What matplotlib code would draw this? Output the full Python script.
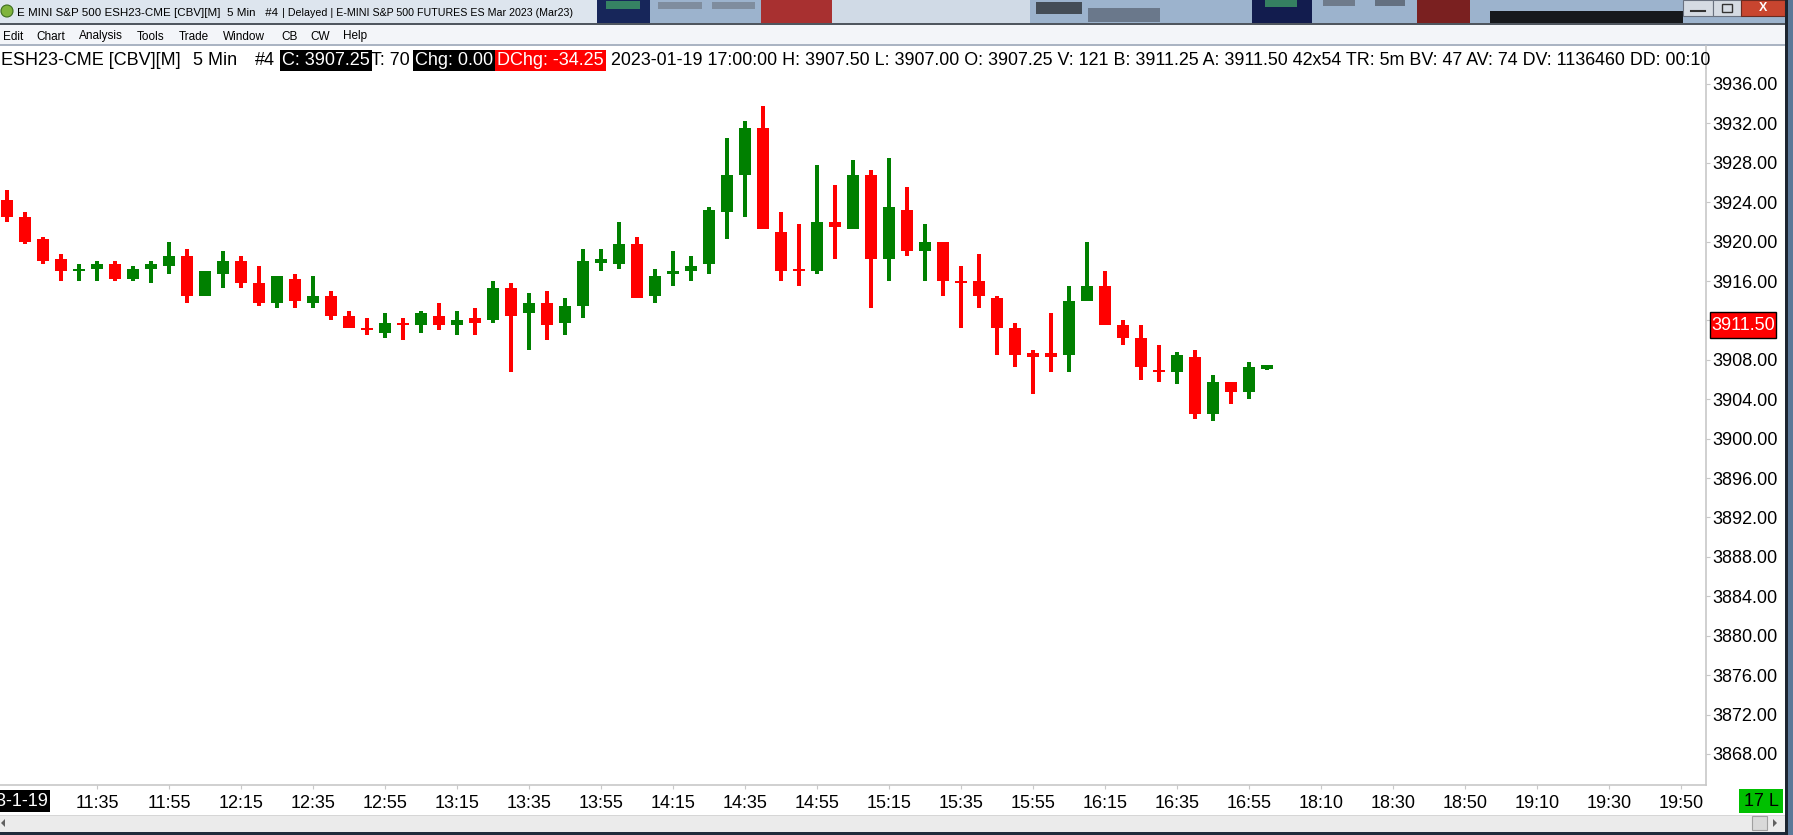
import matplotlib
matplotlib.use("Agg")
import matplotlib.pyplot as plt
from matplotlib.patches import Rectangle, Polygon, Circle
import pandas as pd

W, H = 1793, 835
UP = "#008000"
DOWN = "#ff0000"
LINE_GREY = "#c8c8c8"
FONT = ["Liberation Sans", "DejaVu Sans"]

# bar times (5 min) and the empty slots after the 17:00-18:00 break
BAR_TIMES = pd.date_range("2023-01-19 11:10", "2023-01-19 17:00", freq="5min")
EMPTY_TIMES = pd.date_range("2023-01-19 18:00", "2023-01-19 19:55", freq="5min")

OPEN = [3924.25, 3922.5, 3920.25, 3918.25, 3917.0, 3917.25, 3917.75, 3916.25, 3917.25, 3917.5,
        3918.5, 3914.5, 3916.75, 3918.0, 3915.75, 3913.75, 3916.25, 3913.75, 3914.5, 3912.5,
        3911.25, 3910.75, 3911.75, 3911.5, 3912.5, 3911.5, 3912.25, 3912.0, 3915.25, 3912.75,
        3913.75, 3911.75, 3913.5, 3918.0, 3917.75, 3919.75, 3914.5, 3916.75, 3917.0, 3917.75,
        3923.0, 3926.75, 3931.5, 3921.0, 3917.25, 3917.0, 3922.0, 3921.25, 3926.75, 3918.25,
        3923.25, 3919.0, 3920.0, 3916.0, 3916.0, 3914.25, 3911.25, 3908.5, 3908.5, 3908.5,
        3914.0, 3915.5, 3911.5, 3910.25, 3907.0, 3906.75, 3908.25, 3902.5, 3905.75, 3904.75,
        3907.25]
HIGH = [3925.25, 3923.0, 3920.5, 3918.75, 3917.75, 3918.0, 3918.0, 3917.5, 3918.0, 3920.0,
        3919.25, 3917.0, 3919.0, 3918.5, 3917.5, 3916.5, 3916.75, 3916.5, 3915.0, 3913.0,
        3912.25, 3912.75, 3912.25, 3913.0, 3913.75, 3913.0, 3913.25, 3916.0, 3915.75, 3914.75,
        3915.0, 3914.25, 3919.25, 3919.25, 3922.0, 3920.5, 3917.25, 3919.0, 3918.5, 3923.5,
        3930.5, 3932.25, 3933.75, 3923.0, 3921.75, 3927.75, 3925.75, 3928.25, 3927.25, 3928.5,
        3925.5, 3921.75, 3920.0, 3917.5, 3918.75, 3914.5, 3911.75, 3909.0, 3912.75, 3915.5,
        3920.0, 3917.0, 3912.0, 3911.5, 3909.5, 3908.75, 3909.0, 3906.5, 3905.75, 3907.75,
        3907.5]
LOW = [3922.0, 3919.75, 3917.75, 3916.0, 3916.0, 3916.0, 3916.0, 3916.0, 3915.75, 3916.75,
       3913.75, 3914.5, 3915.25, 3915.25, 3913.5, 3913.25, 3913.25, 3913.25, 3912.0, 3911.25,
       3910.5, 3910.25, 3910.0, 3910.75, 3911.0, 3910.5, 3910.5, 3911.75, 3906.75, 3909.0,
       3910.0, 3910.5, 3912.25, 3917.0, 3917.25, 3914.25, 3913.75, 3915.5, 3916.0, 3916.75,
       3920.25, 3922.5, 3921.25, 3916.0, 3915.5, 3916.75, 3918.25, 3921.25, 3913.25, 3916.0,
       3918.5, 3916.0, 3914.5, 3911.25, 3913.25, 3908.5, 3907.25, 3904.5, 3906.75, 3906.75,
       3914.0, 3911.5, 3909.5, 3906.0, 3905.75, 3905.5, 3902.0, 3901.75, 3903.5, 3904.0,
       3907.0]
CLOSE = [3922.5, 3920.0, 3918.0, 3917.0, 3917.25, 3917.75, 3916.25, 3917.25, 3917.75, 3918.5,
         3914.5, 3917.0, 3918.0, 3915.75, 3913.75, 3916.5, 3914.0, 3914.5, 3912.5, 3911.25,
         3911.0, 3911.75, 3911.5, 3912.75, 3911.5, 3912.0, 3911.75, 3915.25, 3912.5, 3913.75,
         3911.5, 3913.5, 3918.0, 3918.0, 3919.75, 3914.25, 3916.5, 3917.0, 3917.5, 3923.25,
         3926.75, 3931.5, 3921.25, 3917.0, 3917.0, 3922.0, 3921.5, 3926.75, 3918.25, 3923.5,
         3919.0, 3920.0, 3916.0, 3915.75, 3914.5, 3911.25, 3908.5, 3908.5, 3908.5, 3914.0,
         3915.5, 3911.5, 3910.25, 3907.25, 3906.75, 3908.5, 3902.5, 3905.75, 3904.75, 3907.25,
         3907.25]
DOJI_UP = ["13:55", "17:00"]

PRICE_TICKS = [3868, 3872, 3876, 3880, 3884, 3888, 3892, 3896, 3900, 3904, 3908,
               3912, 3916, 3920, 3924, 3928, 3932, 3936]
TIME_LABELS = ["11:35", "11:55", "12:15", "12:35", "12:55", "13:15", "13:35", "13:55",
               "14:15", "14:35", "14:55", "15:15", "15:35", "15:55", "16:15", "16:35",
               "16:55", "18:10", "18:30", "18:50", "19:10", "19:30", "19:50"]
DATE_LABEL = "23-1-19"
LAST_ASK = 3911.50
BAR_COUNT_LABEL = "17 L"

TITLE = [(17, 274, "E MINI S&P 500 ESH23-CME [CBV][M]  5 Min   #4"),
         (282, 570, "| Delayed | E-MINI S&P 500 FUTURES ES Mar 2023 (Mar23)")]
MENU = [("Edit", 3), ("Chart", 36), ("Analysis", 79), ("Tools", 137), ("Trade", 179),
        ("Window", 223), ("CB", 281), ("CW", 310), ("Help", 343)]
HEADER = [
    (1, "ESH23-CME [CBV][M]", None),
    (193, "5 Min", None),
    (255, "#4", None),
    (282, "C: 3907.25", "black"),
    (371, "T: 70", None),
    (415, "Chg: 0.00", "black"),
    (497, "DChg: -34.25", "red"),
    (611, "2023-01-19 17:00:00 H: 3907.50 L: 3907.00 O: 3907.25 V: 121 B: 3911.25 "
          "A: 3911.50 42x54 TR: 5m BV: 47 AV: 74 DV: 1136460 DD: 00:10", None),
]

# pixel layout
PLOT_TOP, PLOT_BOTTOM, PLOT_RIGHT = 68, 785, 1706
FIRST_BAR_X, BAR_STEP = 7, 18
Y_TOP, Y_BOTTOM = 3937.62, 3864.85

plt.rcParams["font.family"] = FONT

fig = plt.figure(figsize=(W / 100, H / 100), dpi=100, facecolor="white")
ax = fig.add_axes([0, 1 - PLOT_BOTTOM / H, PLOT_RIGHT / W, (PLOT_BOTTOM - PLOT_TOP) / H])
ax.set_facecolor("white")

slots = [t.strftime("%H:%M") for t in BAR_TIMES] + [t.strftime("%H:%M") for t in EMPTY_TIMES]

for i, (o, h, l, c) in enumerate(zip(OPEN, HIGH, LOW, CLOSE)):
    if c > o:
        colour = UP
    elif c < o:
        colour = DOWN
    else:
        colour = UP if slots[i] in DOJI_UP else DOWN
    ax.vlines(i, l, h, color=colour, linewidth=1.5, antialiased=False, zorder=2)
    if c == o:
        ax.hlines(c, i - 0.34, i + 0.34, color=colour, linewidth=1.5, antialiased=False, zorder=3)
    else:
        ax.bar(i, abs(c - o), bottom=min(o, c), width=0.667, color=colour,
               linewidth=0, antialiased=False, zorder=3)

ax.set_xlim(-FIRST_BAR_X / BAR_STEP, (PLOT_RIGHT - FIRST_BAR_X) / BAR_STEP)
ax.set_ylim(Y_BOTTOM, Y_TOP)
ax.set_xticks([slots.index(t) for t in TIME_LABELS])
ax.set_xticklabels(TIME_LABELS)
ax.set_yticks(PRICE_TICKS)
ax.set_yticklabels([f"{p:.2f}" for p in PRICE_TICKS])
ax.yaxis.tick_right()
ax.tick_params(axis="y", length=3, width=0.8, color=LINE_GREY, labelsize=13, pad=1.5)
ax.tick_params(axis="x", length=3, width=0.8, color=LINE_GREY, labelsize=13, pad=4)
for side in ["top", "left"]:
    ax.spines[side].set_visible(False)
for side in ["bottom", "right"]:
    ax.spines[side].set_color(LINE_GREY)
    ax.spines[side].set_linewidth(1.2)

# window chrome drawn in pixel coordinates
ui = fig.add_axes([0, 0, 1, 1], zorder=5)
ui.set_xlim(0, W)
ui.set_ylim(H, 0)
ui.axis("off")
ui.patch.set_alpha(0)
renderer = fig.canvas.get_renderer()


def box(x0, y0, x1, y1, colour, **kw):
    ui.add_patch(Rectangle((x0, y0), x1 - x0, y1 - y0, facecolor=colour,
                           edgecolor=kw.pop("ec", "none"), **kw))


def fit(t, x0, x1):
    width = t.get_window_extent(renderer).width
    t.set_fontsize(t.get_fontsize() * (x1 - x0) / width)


# title bar with the blurred windows behind it
box(0, 0, W, 23, "#9cb3cd")
box(0, 0, 597, 23, "#dde5ee")
box(597, 0, 650, 23, "#17265a")
box(606, 1, 640, 9, "#3f9a66", alpha=0.8)
box(658, 2, 702, 9, "#6c7480", alpha=0.6)
box(712, 2, 755, 9, "#6c7480", alpha=0.6)
box(761, 0, 832, 23, "#a83030")
box(832, 0, 1030, 23, "#d0dae6")
box(1036, 2, 1082, 14, "#2d3238", alpha=0.8)
box(1088, 8, 1160, 22, "#4a5260", alpha=0.6)
box(1252, 0, 1312, 23, "#121c4e")
box(1265, 0, 1297, 7, "#3f9a66", alpha=0.8)
box(1323, 0, 1355, 6, "#5d6470", alpha=0.7)
box(1375, 0, 1405, 6, "#4d5460", alpha=0.7)
box(1417, 0, 1470, 23, "#7a2020")
box(1490, 11, 1683, 23, "#16191d")
ui.add_patch(Circle((7, 11), 6, facecolor="#7fb43c", edgecolor="#3d6e1e", linewidth=0.8))
for x0, x1, text in TITLE:
    fit(ui.text(x0, 12.5, text, fontsize=8.5, va="center", ha="left", color="black"), x0, x1)
box(1683, 0, 1713, 16, "#d5dbe3", ec="#6a7280", linewidth=0.8)
box(1713, 0, 1741, 16, "#d5dbe3", ec="#6a7280", linewidth=0.8)
box(1741, 0, 1785, 16, "#c8452f", ec="#6a2a20", linewidth=0.8)
ui.plot([1691, 1705], [11, 11], color="#333333", linewidth=1.5)
ui.add_patch(Rectangle((1722, 4), 10, 8, facecolor="none", edgecolor="#333333", linewidth=1))
ui.text(1763, 8, "X", fontsize=9, color="white", ha="center", va="center", fontweight="bold")
box(0, 23, W, 24.5, "#4f565f")

# menu bar
box(0, 24.5, W, 44, "#f3f5f9")
box(0, 44, W, 45.5, "#aab4c3")
for label, x in MENU:
    ui.text(x, 36.5, label, fontsize=8.5, va="center", ha="left", color="black")

# header row
ui.plot([PLOT_RIGHT, PLOT_RIGHT], [45.5, PLOT_TOP], color=LINE_GREY, linewidth=1.2)
for x, text, fill in HEADER:
    kw = {}
    if fill:
        kw["bbox"] = dict(boxstyle="square,pad=0.12", facecolor=fill, edgecolor="none")
    t = ui.text(x, 60.5, text, fontsize=13, va="center", ha="left",
                color="white" if fill else "black", **kw)
    if text.startswith("2023"):
        fit(t, x, 1704)

# last ask label on price axis
y_px = PLOT_TOP + (Y_TOP - LAST_ASK) / (Y_TOP - Y_BOTTOM) * (PLOT_BOTTOM - PLOT_TOP)
box(1710, y_px - 13, 1776, y_px + 13, "red", ec="black", linewidth=1)
ui.text(1743, y_px, f"{LAST_ASK:.2f}", fontsize=13, color="white", ha="center", va="center")

# date label at the left of the time axis
ui.text(48, 801, DATE_LABEL, fontsize=13, color="white", ha="right", va="center",
        bbox=dict(boxstyle="square,pad=0.12", facecolor="black", edgecolor="none"))

# bar count label
box(1739, 789, 1783, 813, "#00c000")
ui.text(1761, 801, BAR_COUNT_LABEL, fontsize=13, color="black", ha="center", va="center")

# scrollbar and frame
box(0, 815, 1785, 832, "#ebebeb")
box(0, 815, 1785, 816, "#d6d6d6")
box(1752, 816, 1767, 830, "#d9d9d9", ec="#a0a0a0", linewidth=0.8)
ui.add_patch(Polygon([[1773, 819], [1773, 827], [1777, 823]], closed=True, facecolor="#606060"))
ui.add_patch(Polygon([[5, 819], [5, 827], [1, 823]], closed=True, facecolor="#606060"))
box(0, 832, W, H, "#1f2b3b")
box(1785, 0, 1788, H, "#1c2530")
box(1788, 0, W, H, "#5b7898")

fig.savefig("out.png", dpi=100, facecolor="white")
